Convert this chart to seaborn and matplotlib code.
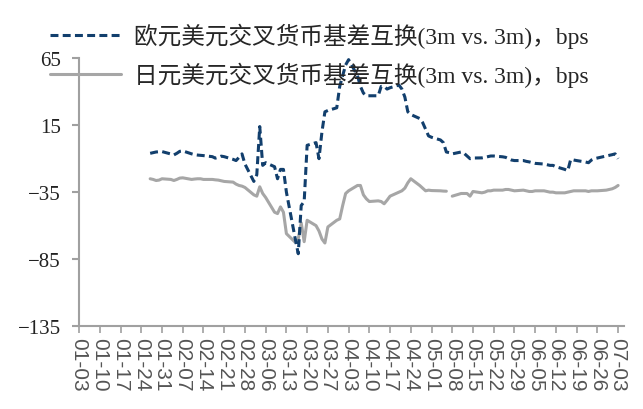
import numpy as np
import pandas as pd
import seaborn as sns
import matplotlib.pyplot as plt
import matplotlib.dates as mdates

# business days from 2020-01-27 to 2020-07-03
dates = pd.bdate_range("2020-01-27", "2020-07-03")

eur_usd = [
    -6, -5.5, -5, -4.8, -4.7,            # Jan 27
    -6.5, -7.2, -6, -4.5, -4.2,          # Feb 03
    -6.4, -7, -7.3, -7.5, -7.7,          # Feb 10
    -8.5, -9.6, -9, -8.1, -8.5,          # Feb 17
    -10.5, -11.4, -9, -6.4, -14,         # Feb 24
    -27, -22, 14, -15, -13,              # Mar 02
    -16, -25, -18, -18, -35,             # Mar 09
    -70, -81, -45, -42, 0,               # Mar 16
    2, -10, 10, 25, 26,                  # Mar 23
    28, 44, 52, 60, 64,                  # Mar 30
    52, 44, 39, 37, 37,                  # Apr 06
    37, 44, 44, 42, 43,                  # Apr 13
    45, 42, 36, 25, 23,                  # Apr 20
    20, 17, 12, 7, 6,                    # Apr 27
    4, 2, -5, -5.5, -6.4,                # May 04
    -5, -6, -8, -10, -9.5,               # May 11
    -9.4, -9, -8.5, -8, -8,              # May 18
    -8.6, -9, -10, -11, -11.4,           # May 25
    -11.4, -12, -12.4, -13, -13.5,       # Jun 01
    -14, -14.5, -15, -15, -16,           # Jun 08
    -18, -19, -10.5, -11, -11.4,         # Jun 15
    -12.5, -13, -11, -10, -9.5,          # Jun 22
    -8, -7.5, -7, -6.4, -10,             # Jun 29
]

jpy_usd = [
    -25, -25.5, -26.3, -26, -25,
    -25.5, -26.3, -25.5, -24.5, -24.3,
    -25.5, -25.2, -25, -25, -25.5,
    -25.5, -25.8, -26, -26.5, -27,
    -27.5, -29, -30, -30.5, -31.5,
    -37, -38, -31, -36, -39,
    -50, -51, -46, -50, -66,
    -72.5, -70, -58, -72, -56,
    -60, -64, -70, -73, -61,
    -56, -55, -45, -36, -34,
    -30, -30, -37, -40, -42,
    -41.5, -42, -43.7, -41, -38,
    -35, -34, -32, -28, -25,
    -30, -32, -34, -33.5, -33.8,
    -34, -34.2, -34.3, np.nan, -38,
    -36, -36, -36, -38, -34.5,
    -35.5, -35, -34, -34, -33.5,
    -33.5, -33, -33, -33.5, -34,
    -33.5, -34, -34.5, -34.5, -34,
    -34, -34.5, -35, -35, -35.5,
    -35.5, -35, -34.5, -34, -34,
    -34, -34.5, -34, -34, -34,
    -33.5, -33, -32.5, -31.5, -30,
]

labels = ["欧元美元交叉货币基差互换(3m vs. 3m)，bps",
          "日元美元交叉货币基差互换(3m vs. 3m)，bps"]

df = pd.DataFrame({"date": dates, "eur": eur_usd, "jpy": jpy_usd})

sns.set_style("white")
plt.rcParams["font.family"] = ["Liberation Serif", "Noto Sans CJK SC", "DejaVu Sans"]

fig = plt.figure(figsize=(6.43, 4.10), dpi=100)
ax = fig.add_axes([0.123, 0.2024, 0.8475, 0.6530])

blue = "#123f6d"
grey = "#a6a6a6"

# grey series has a gap, draw it segment by segment
seg = df["jpy"].isna().cumsum()
first = True
for _, part in df[df["jpy"].notna()].groupby(seg[df["jpy"].notna()]):
    sns.lineplot(data=part, x="date", y="jpy", ax=ax, color=grey, lw=2.2,
                 label=labels[1] if first else None, legend=False)
    first = False
sns.lineplot(data=df, x="date", y="eur", ax=ax, color=blue, lw=2.2,
             label=labels[0], legend=False)
ax.lines[-1].set_dashes([2.6, 1.4])

ax.set_ylim(-135, 65)
ax.set_yticks([-135, -85, -35, 15, 65])
ax.set_xlim(pd.Timestamp("2020-01-03"), pd.Timestamp("2020-07-05"))
ax.set_xticks(pd.date_range("2020-01-03", "2020-07-03", freq="7D"))
ax.xaxis.set_major_formatter(mdates.DateFormatter("%m-%d"))
ax.set_xlabel("")
ax.set_ylabel("")

for s in ["top", "right"]:
    ax.spines[s].set_visible(False)
for s in ["left", "bottom"]:
    ax.spines[s].set_color("#a0a0a0")
    ax.spines[s].set_linewidth(1.5)

ax.tick_params(axis="y", direction="out", length=5, width=1.5, color="#a0a0a0",
               labelsize=15, labelcolor="#222222", pad=8, left=True)
ax.tick_params(axis="x", direction="out", length=5, width=1.2, color="#a0a0a0",
               labelsize=15, labelcolor="#555555", pad=3, bottom=True)
for t in ax.get_xticklabels():
    t.set_rotation(-90)
    t.set_fontfamily(["Liberation Sans", "DejaVu Sans"])

handles = [ax.lines[-1], ax.lines[0]]
leg = fig.legend(handles, labels, loc="upper left", bbox_to_anchor=(0.063, 0.965),
                 frameon=False, fontsize=17, handlelength=3.0, handletextpad=0.55,
                 labelspacing=0.57, borderaxespad=0)

fig.savefig("out.png", dpi=100)
